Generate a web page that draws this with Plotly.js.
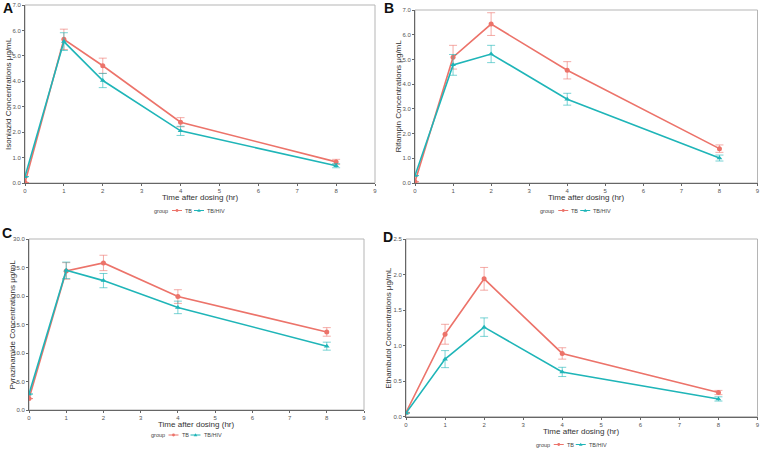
<!DOCTYPE html>
<html>
<head>
<meta charset="utf-8">
<script src="https://cdn.plot.ly/plotly-3.0.1.min.js"></script>
<style>html,body{margin:0;padding:0;background:#fff;}#chart{width:760px;height:449px;}</style>
</head>
<body>
<div id="chart"></div>
<script>
// ---- data ----
const times = [0, 1, 2, 4, 8];
const groups = ["TB", "TB/HIV"];
const legendTitle = "group";

const isoniazidTB = [0.02, 5.65, 4.61, 2.39, 0.83];
const isoniazidTBErr = [0, 0.40, 0.30, 0.18, 0.10];
const isoniazidHIV = [0.25, 5.56, 4.03, 2.05, 0.68];
const isoniazidHIVErr = [0, 0.35, 0.28, 0.18, 0.08];

const rifampinTB = [0.05, 5.09, 6.43, 4.56, 1.39];
const rifampinTBErr = [0, 0.48, 0.46, 0.35, 0.15];
const rifampinHIV = [0.30, 4.78, 5.22, 3.39, 1.01];
const rifampinHIVErr = [0, 0.42, 0.35, 0.24, 0.12];

const pyrazinamideTB = [2.0, 24.4, 25.8, 19.9, 13.7];
const pyrazinamideTBErr = [0, 1.45, 1.35, 1.2, 0.75];
const pyrazinamideHIV = [2.8, 24.5, 22.7, 18.0, 11.2];
const pyrazinamideHIVErr = [0, 1.45, 1.25, 1.1, 0.7];

const ethambutolTB = [0.06, 1.16, 1.94, 0.89, 0.34];
const ethambutolTBErr = [0, 0.14, 0.16, 0.08, 0.03];
const ethambutolHIV = [0.05, 0.81, 1.26, 0.63, 0.25];
const ethambutolHIVErr = [0, 0.12, 0.13, 0.065, 0.03];

const panelLetters = ["A", "B", "C", "D"];
const yTitles = ["Isoniazid Concentrations μg/mL", "Rifampin Concentrations μg/mL",
                 "Pyrazinamide Concentrations μg/mL", "Ethambutol Concentrations μg/mL"];
const yMax = [7, 7, 30, 2.5];
const yStep = [1, 1, 5, 0.5];
const xTitle = "Time after dosing (hr)";
const xMax = 9;

// ---- layout geometry (pixels) ----
const W = 760, H = 449;
const boxes = [
  {l: 25, r: 375, t: 5, b: 183, leg: 210.5, xt: 197.5, letter: [8, 8]},
  {l: 415, r: 757.5, t: 10, b: 183, leg: 210.5, xt: 197.5, letter: [389, 8]},
  {l: 29, r: 364, t: 239, b: 410, leg: 435, xt: 424.5, letter: [7, 233]},
  {l: 406, r: 757.5, t: 239, b: 416.7, leg: 444.5, xt: 431, letter: [388, 237]}
];

const series = [
  [isoniazidTB, isoniazidTBErr, isoniazidHIV, isoniazidHIVErr],
  [rifampinTB, rifampinTBErr, rifampinHIV, rifampinHIVErr],
  [pyrazinamideTB, pyrazinamideTBErr, pyrazinamideHIV, pyrazinamideHIVErr],
  [ethambutolTB, ethambutolTBErr, ethambutolHIV, ethambutolHIVErr]
];

const colTB = "#EC736A", colHIV = "#1FB5B8";
const errTB = "rgba(236,115,106,0.6)", errHIV = "rgba(31,181,184,0.6)";
const FONT = "Liberation Sans, Arial, sans-serif";

const traces = [];
const layout = {
  width: W, height: H,
  margin: {l: 0, r: 0, t: 0, b: 0},
  paper_bgcolor: "#fff", plot_bgcolor: "#fff",
  font: {family: FONT, color: "#333"},
  showlegend: false,
  annotations: [], shapes: []
};

function px(x) { return x / W; }
function py(y) { return 1 - y / H; }

series.forEach((s, i) => {
  const k = i === 0 ? "" : String(i + 1);
  const xa = "x" + k, ya = "y" + k;
  const b = boxes[i];
  [[s[0], s[1], groups[0], colTB, errTB, "circle"],
   [s[2], s[3], groups[1], colHIV, errHIV, "triangle-up"]].forEach(d => {
    traces.push({
      x: times, y: d[0], name: d[2], type: "scatter", mode: "lines+markers",
      xaxis: xa, yaxis: ya,
      line: {color: d[3], width: 1.6},
      marker: {color: d[3], size: 5, symbol: d[5]},
      error_y: {type: "data", array: d[1], visible: true, color: d[4], thickness: 1, width: 4}
    });
  });
  const axCommon = {
    showgrid: false, zeroline: false, showline: true, linecolor: "#666", linewidth: 1,
    ticks: "outside", ticklen: 2, tickcolor: "#666",
    tickfont: {size: 6, color: "#555", family: FONT}, fixedrange: true
  };
  layout["xaxis" + k] = Object.assign({}, axCommon, {
    domain: [b.l / W, b.r / W], anchor: ya, range: [0, xMax],
    tickmode: "linear", tick0: 0, dtick: 1
  });
  layout["yaxis" + k] = Object.assign({}, axCommon, {
    domain: [(H - b.b) / H, (H - b.t) / H], anchor: xa, range: [0, yMax[i]],
    tickmode: "linear", tick0: 0, dtick: yStep[i], tickformat: ".1f"
  });
  layout.shapes.push({type: "rect", xref: xa + " domain", yref: ya + " domain",
    x0: 0, x1: 1, y0: 0, y1: 1, line: {color: "#b5b5b5", width: 1}, layer: "below"});

  // x title
  layout.annotations.push({xref: "paper", yref: "paper", x: px((b.l + b.r) / 2), y: py(b.xt),
    xanchor: "center", yanchor: "middle", showarrow: false, text: xTitle,
    font: {size: 8, color: "#333", family: FONT}, borderpad: 0});
  // y title
  layout.annotations.push({xref: "paper", yref: "paper", x: px(b.l - 17), y: py((b.t + b.b) / 2),
    xanchor: "center", yanchor: "middle", showarrow: false, text: yTitles[i], textangle: -90,
    font: {size: 8, color: "#333", family: FONT}, borderpad: 0});
  // panel letter
  layout.annotations.push({xref: "paper", yref: "paper", x: px(b.letter[0]), y: py(b.letter[1]),
    xanchor: "center", yanchor: "middle", showarrow: false, text: "<b>" + panelLetters[i] + "</b>",
    font: {size: 14, color: "#111", family: FONT}, borderpad: 0});

  // legend (hand-built key)
  const c = (b.l + b.r) / 2 - 6, ly = b.leg;
  const lf = {size: 5.5, color: "#444", family: FONT};
  layout.annotations.push({xref: "paper", yref: "paper", x: px(c - 25), y: py(ly),
    xanchor: "right", yanchor: "middle", showarrow: false, text: legendTitle, font: lf,
    borderpad: 0});
  [[colTB, "circle", groups[0], c - 22],
   [colHIV, "triangle", groups[1], c]].forEach(g => {
    const x0 = g[3], xm = x0 + 5;
    layout.shapes.push({type: "line", xref: "paper", yref: "paper",
      x0: px(x0), x1: px(x0 + 10), y0: py(ly), y1: py(ly), line: {color: g[0], width: 1}});
    if (g[1] === "circle") {
      layout.shapes.push({type: "circle", xref: "paper", yref: "paper",
        x0: px(xm - 1.4), x1: px(xm + 1.4), y0: py(ly - 1.4), y1: py(ly + 1.4),
        fillcolor: g[0], line: {width: 0}});
    } else {
      layout.shapes.push({type: "path", xref: "paper", yref: "paper",
        path: `M ${px(xm - 1.8)} ${py(ly + 1.3)} L ${px(xm + 1.8)} ${py(ly + 1.3)} L ${px(xm)} ${py(ly - 1.8)} Z`,
        fillcolor: g[0], line: {width: 0}});
    }
    layout.annotations.push({xref: "paper", yref: "paper", x: px(x0 + 12), y: py(ly),
      xanchor: "left", yanchor: "middle", showarrow: false, text: g[2], font: lf,
      borderpad: 0});
  });
});

Plotly.newPlot("chart", traces, layout, {displayModeBar: false, staticPlot: true});
</script>
</body>
</html>
